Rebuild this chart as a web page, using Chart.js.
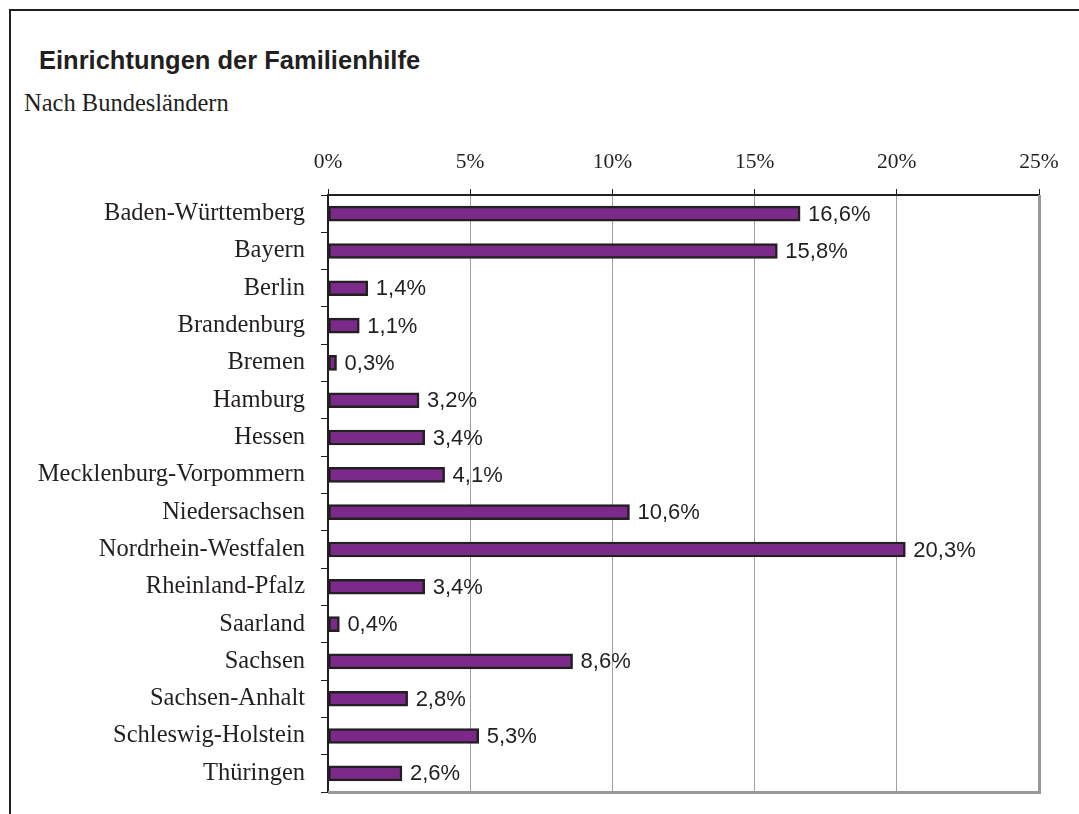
<!DOCTYPE html>
<html>
<head>
<meta charset="utf-8">
<script src="https://cdn.jsdelivr.net/npm/chart.js@4"></script>
<style>
  body { margin: 0; background: #fff; overflow: hidden; }
  #frame {
    position: absolute; left: 9px; top: 9px; width: 1100px; height: 900px;
    border: 2px solid #231f20; box-sizing: border-box;
  }
  #title {
    position: absolute; left: 39px; top: 46px; white-space: nowrap;
    font: bold 25.5px "Liberation Sans", Arial, sans-serif; color: #231f20;
  }
  #subtitle {
    position: absolute; left: 24px; top: 89px; white-space: nowrap;
    font: 24.5px "Liberation Serif", "Times New Roman", serif; color: #231f20;
  }
  #chart { position: absolute; left: 0; top: 0; }
</style>
</head>
<body>
<div id="frame"></div>
<div id="title">Einrichtungen der Familienhilfe</div>
<div id="subtitle">Nach Bundesländern</div>
<canvas id="chart" width="1079" height="814"></canvas>
<script>
// Bundeslaender und Anteile in %
const laender = [
  "Baden-Württemberg", "Bayern", "Berlin", "Brandenburg", "Bremen",
  "Hamburg", "Hessen", "Mecklenburg-Vorpommern", "Niedersachsen",
  "Nordrhein-Westfalen", "Rheinland-Pfalz", "Saarland", "Sachsen",
  "Sachsen-Anhalt", "Schleswig-Holstein", "Thüringen"
];
const anteile = [16.6, 15.8, 1.4, 1.1, 0.3, 3.2, 3.4, 4.1, 10.6, 20.3, 3.4, 0.4, 8.6, 2.8, 5.3, 2.6];
const xTicks = [0, 5, 10, 15, 20, 25];

const dark = "#231f20";

// Werte rechts neben den Balken
const valueLabels = {
  id: "valueLabels",
  afterDatasetsDraw(chart) {
    const ctx = chart.ctx;
    ctx.save();
    ctx.font = '22px "Liberation Sans", Arial, sans-serif';
    ctx.fillStyle = dark;
    ctx.textBaseline = "middle";
    chart.getDatasetMeta(0).data.forEach((bar, i) => {
      ctx.fillText(anteile[i].toFixed(1).replace(".", ",") + "%", bar.x + 8, bar.y + 1);
    });
    ctx.restore();
  }
};

// grauer Rahmen rechts und unten (wie Excel)
const plotBorder = {
  id: "plotBorder",
  afterDraw(chart) {
    const a = chart.chartArea;
    const ctx = chart.ctx;
    ctx.save();
    ctx.strokeStyle = "#98989c";
    ctx.lineWidth = 3;
    ctx.beginPath();
    ctx.moveTo(a.left, a.bottom + 0.5);
    ctx.lineTo(a.right + 1.5, a.bottom + 0.5);
    ctx.moveTo(a.right + 0.5, a.top);
    ctx.lineTo(a.right + 0.5, a.bottom + 2);
    ctx.stroke();
    ctx.restore();
  }
};

new Chart(document.getElementById("chart"), {
  type: "bar",
  data: {
    labels: laender,
    datasets: [{
      data: anteile,
      backgroundColor: "#7b2a89",
      borderColor: dark,
      borderWidth: 2.5,
      borderSkipped: false,
      barThickness: 15
    }]
  },
  options: {
    indexAxis: "y",
    responsive: false,
    animation: false,
    devicePixelRatio: 1,
    layout: { padding: { left: 0, top: 140, right: 40, bottom: 22 } },
    plugins: { legend: { display: false }, tooltip: { enabled: false } },
    scales: {
      x: {
        position: "top",
        min: 0,
        max: 25,
        afterBuildTicks: (s) => { s.ticks = xTicks.map((v) => ({ value: v })); },
        afterFit: (s) => { s.height = 55; s.paddingLeft = 0; s.paddingRight = 0; },
        ticks: {
          callback: (v) => v + "%",
          color: dark,
          padding: 14,
          font: { family: '"Liberation Serif", "Times New Roman", serif', size: 21.5 }
        },
        grid: { color: "#a0a0a0", tickColor: dark, tickLength: 6, lineWidth: 1 },
        border: { color: dark, width: 2 }
      },
      y: {
        afterFit: (s) => { s.width = 328; s.paddingTop = 0; s.paddingBottom = 0; },
        ticks: {
          color: dark,
          padding: 16,
          font: { family: '"Liberation Serif", "Times New Roman", serif', size: 24.5 }
        },
        grid: { drawOnChartArea: false, tickColor: dark, tickLength: 7, offset: true },
        border: { color: dark, width: 2 }
      }
    }
  },
  plugins: [valueLabels, plotBorder]
});
</script>
</body>
</html>
